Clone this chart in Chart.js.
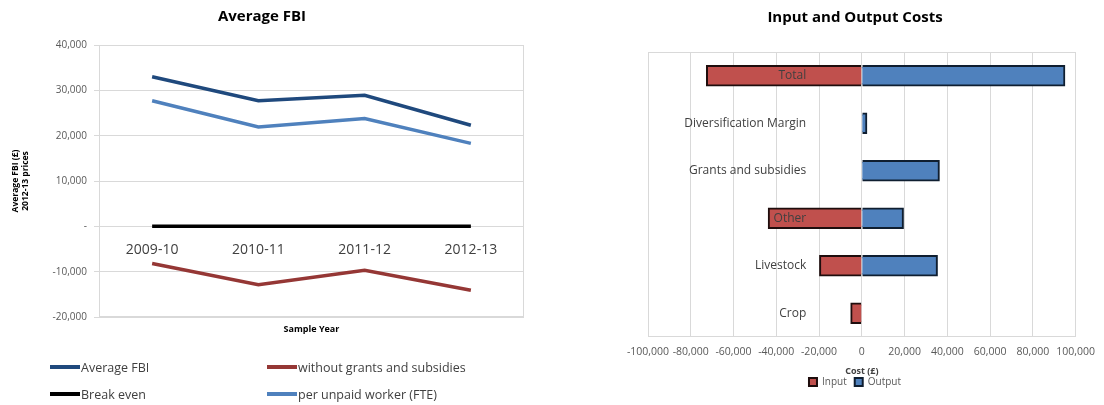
<!DOCTYPE html>
<html><head><meta charset="utf-8">
<script src="https://cdn.jsdelivr.net/npm/chart.js@4.4.1/dist/chart.umd.min.js"></script>
<style>
html,body{margin:0;padding:0;background:#fff;width:1104px;height:405px;overflow:hidden;font-family:"Open Sans",sans-serif}
#lwrap{position:absolute;left:0;top:0;width:560px;height:405px}
#rwrap{position:absolute;left:560px;top:0;width:544px;height:405px}
#legend1{position:absolute;left:0;top:0;width:560px;height:405px;pointer-events:none}
.li{position:absolute;display:flex;align-items:center;height:20px;font:12.5px "Open Sans";color:#404040;white-space:nowrap;transform:translateY(-50%)}
.li .sw{display:inline-block;width:30px;height:4px;margin-right:1px}
</style></head><body>
<div id="lwrap"><canvas id="c1" width="560" height="405"></canvas><div id="legend1"></div></div>
<div id="rwrap"><canvas id="c2" width="544" height="405"></canvas></div>
<script>
// ---- Left chart data ----
const years = ['2009-10', '2010-11', '2011-12', '2012-13'];
const avgFBI = [33000, 27700, 28900, 22300];
const withoutGrants = [-8200, -12900, -9700, -14100];
const breakEven = [0, 0, 0, 0];
const perUnpaidWorker = [27700, 21900, 23800, 18300];
const fbiMin = -20000, fbiMax = 40000, fbiStep = 10000;

// ---- Right chart data ----
const costCategories = ['Total', 'Diversification Margin', 'Grants and subsidies', 'Other', 'Livestock', 'Crop'];
const inputCosts = [-72600, 0, 0, -43700, -19700, -5100];
const outputCosts = [94900, 2300, 36200, 19400, 35300, 0];
const costMin = -100000, costMax = 100000, costStep = 20000;

Chart.defaults.font.family = '"Open Sans", sans-serif';

const plotBorder = {
  id: 'plotBorder',
  beforeDatasetsDraw(chart) {
    const {ctx, chartArea: a} = chart;
    ctx.save();
    ctx.strokeStyle = '#d9d9d9';
    ctx.lineWidth = 1;
    ctx.strokeRect(Math.round(a.left) + 0.5, Math.round(a.top) + 0.5, Math.round(a.width) - 1, Math.round(a.height) - 1);
    ctx.restore();
  }
};

const fmt = v => v === 0 ? '-' : v.toLocaleString('en-US');

const chart1 = new Chart(document.getElementById('c1'), {
  type: 'line',
  data: {
    labels: years,
    datasets: [
      {label: 'Average FBI', data: avgFBI, borderColor: '#1f497d', backgroundColor: '#1f497d', xAxisID: 'x', yAxisID: 'y'},
      {label: 'without grants and subsidies', data: withoutGrants, borderColor: '#953735', backgroundColor: '#953735', xAxisID: 'x', yAxisID: 'y'},
      {label: 'Break even', data: breakEven, borderColor: '#000000', backgroundColor: '#000000', xAxisID: 'x', yAxisID: 'y'},
      {label: 'per unpaid worker (FTE)', data: perUnpaidWorker, borderColor: '#4f81bd', backgroundColor: '#4f81bd', xAxisID: 'x', yAxisID: 'y'}
    ]
  },
  options: {
    responsive: false, animation: false, devicePixelRatio: 1,
    layout: {padding: {left: 0, right: 36, top: 0, bottom: 68}},
    elements: {point: {radius: 0}, line: {borderWidth: 3.5, tension: 0, borderCapStyle: 'butt'}},
    plugins: {
      legend: {display: false},
      tooltip: {enabled: false},
      title: {display: true, text: 'Average FBI', color: '#000', font: {size: 15, weight: 'bold'}, padding: {top: 8, bottom: 19}}
    },
    scales: {
      x: {
        type: 'category', position: {y: 0}, offset: true,
        grid: {display: false, drawTicks: false}, border: {display: false},
        ticks: {font: {size: 14}, color: '#404040', padding: 15, maxRotation: 0},
        afterFit(s) { s.height = 0; }
      },
      x2: {
        type: 'category', labels: years, position: 'bottom', offset: true,
        grid: {display: false, drawTicks: false}, border: {display: false},
        ticks: {display: false},
        title: {display: true, text: 'Sample Year', color: '#000', font: {size: 9, weight: 'bold'}, padding: {top: 0, bottom: 2}},
        afterFit(s) { s.height = 20; }
      },
      y: {
        min: fbiMin, max: fbiMax,
        ticks: {stepSize: fbiStep, callback: fmt, color: '#595959', font: {size: 10}, padding: 7},
        grid: {color: '#d9d9d9', tickLength: 5},
        border: {display: false},
        title: {display: true, text: ['Average FBI (£)', '2012-13 prices'], color: '#000', font: {size: 8.5, weight: 'bold'}, padding: {top: 10, bottom: 0}},
        afterFit(s) { s.width = 99; }
      }
    }
  },
  plugins: [plotBorder]
});

// HTML legend for left chart, built from the chart's own legend items (2 x 2 grid)
(function () {
  const items = Chart.defaults.plugins.legend.labels.generateLabels(chart1);
  const host = document.getElementById('legend1');
  const colX = [50, 267], rowY = [367, 394];
  items.forEach((it, i) => {
    const d = document.createElement('div');
    d.className = 'li';
    d.style.left = colX[i % 2] + 'px';
    d.style.top = rowY[Math.floor(i / 2)] + 'px';
    const sw = document.createElement('span');
    sw.className = 'sw';
    sw.style.background = it.strokeStyle;
    const t = document.createElement('span');
    t.textContent = it.text;
    d.appendChild(sw); d.appendChild(t);
    host.appendChild(d);
  });
})();

new Chart(document.getElementById('c2'), {
  type: 'bar',
  data: {
    labels: costCategories,
    datasets: [
      {label: 'Input', data: inputCosts, backgroundColor: '#c0504d', borderColor: '#1e0d0d', borderWidth: 2, inflateAmount: 0.6},
      {label: 'Output', data: outputCosts, backgroundColor: '#4f81bd', borderColor: '#0f1e30', borderWidth: 2, inflateAmount: 0.6}
    ]
  },
  options: {
    indexAxis: 'y', responsive: false, animation: false, devicePixelRatio: 1,
    layout: {padding: {left: 72, right: 26, top: 0, bottom: 8}},
    datasets: {bar: {barPercentage: 0.85, categoryPercentage: 0.5}},
    plugins: {
      tooltip: {enabled: false},
      title: {display: true, text: 'Input and Output Costs', color: '#000', font: {size: 15, weight: 'bold'}, padding: {top: 9, bottom: 25}},
      legend: {position: 'bottom', labels: {boxWidth: 8, boxHeight: 8, color: '#595959', font: {size: 10}, padding: 8}}
    },
    scales: {
      x: {
        stacked: true, min: costMin, max: costMax,
        ticks: {stepSize: costStep, autoSkip: false, maxRotation: 0, callback: v => v.toLocaleString('en-US'), color: '#595959', font: {size: 10.5}, padding: 9},
        grid: {color: '#d9d9d9', drawTicks: false},
        border: {display: false},
        title: {display: true, text: 'Cost (£)', color: '#404040', font: {size: 9, weight: 'bold'}, padding: {top: 0, bottom: -8}},
        afterFit(s) { s.height = 32; }
      },
      y: {
        stacked: true, position: {x: -26000},
        grid: {display: false, drawTicks: false}, border: {display: false},
        ticks: {color: '#404040', font: {size: 12}, z: 1},
        afterFit(s) { s.width = 0; }
      },
      y2: {
        type: 'category', labels: costCategories, position: 'left',
        grid: {display: false, drawTicks: false}, border: {display: false},
        ticks: {display: false},
        afterFit(s) { s.width = 16; }
      }
    }
  },
  plugins: [plotBorder]
});
</script>
</body></html>
